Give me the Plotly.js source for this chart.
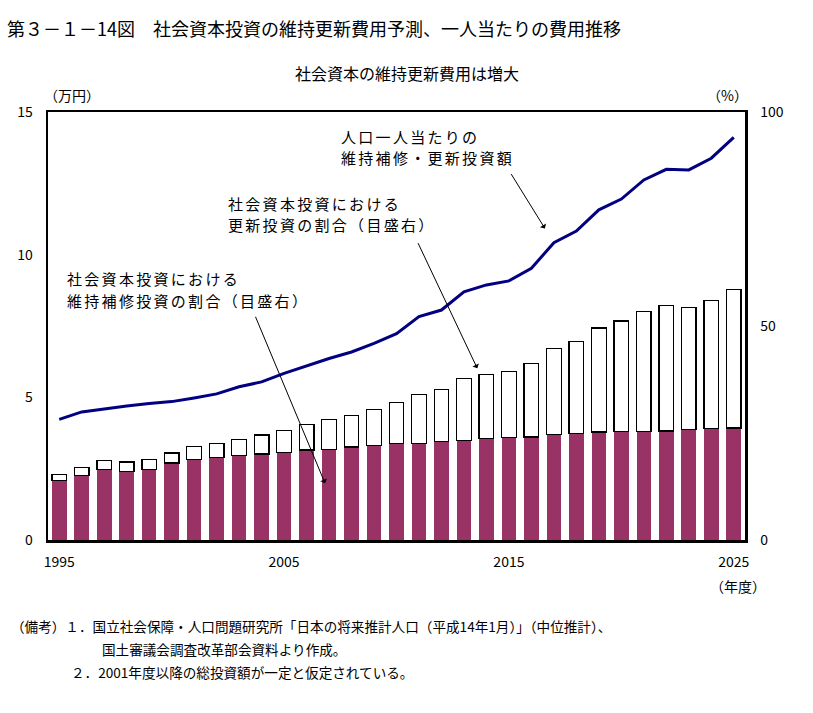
<!DOCTYPE html>
<html>
<head>
<meta charset="utf-8">
<script src="https://cdn.plot.ly/plotly-3.0.1.min.js"></script>
<style>html,body{margin:0;padding:0;background:#fff;}#chart{width:813px;height:713px;}</style>
</head>
<body>
<div id="chart"></div>
<script>
// ---- data ----
const years = [1995,1996,1997,1998,1999,2000,2001,2002,2003,2004,2005,2006,2007,2008,2009,2010,
               2011,2012,2013,2014,2015,2016,2017,2018,2019,2020,2021,2022,2023,2024,2025];
// 維持補修投資の割合 (%) 右目盛
const maintShare = [13.9,15.0,16.5,16.0,16.5,18.0,18.8,19.3,19.8,20.1,20.5,21.0,21.2,21.7,22.0,22.5,
                    22.6,23.0,23.2,23.7,23.9,24.1,24.6,24.9,25.2,25.3,25.3,25.5,25.8,26.0,26.2];
// 更新投資の割合 (%) 右目盛
const renewShare = [1.4,2.0,2.1,2.2,2.3,2.3,3.1,3.3,3.7,4.4,5.1,6.0,7.0,7.4,8.5,9.7,
                    11.4,12.2,14.6,15.0,15.5,17.2,20.2,21.5,24.3,25.9,28.1,29.3,28.6,30.0,32.4];
// 人口一人当たりの維持補修・更新投資額 (万円) 左目盛
const perCapita = [4.23,4.49,4.59,4.70,4.78,4.85,4.98,5.12,5.37,5.54,5.84,6.10,6.36,6.59,6.89,7.23,
                   7.83,8.06,8.70,8.94,9.08,9.52,10.42,10.83,11.57,11.95,12.62,12.99,12.97,13.38,14.11];
const xTicks = [1995,2005,2015,2025];
const leftTicks = [0,5,10,15];
const rightTicks = [0,50,100];
const callouts = ['人口一人当たりの', '維持補修・更新投資額',
                  '社会資本投資における', '更新投資の割合（目盛右）',
                  '社会資本投資における', '維持補修投資の割合（目盛右）'];

// ---- layout helpers (pixel -> paper) ----
const L = 48, R = 745, T = 112, B = 540;
const px = x => (x - L) / (R - L);
const py = y => (B - y) / (B - T);
const FONT = '"Noto Sans CJK JP", "Noto Sans", sans-serif';

function txt(text, x, y, size, xanchor) {
  return {text: text, xref: 'paper', yref: 'paper', x: px(x), y: py(y),
          xanchor: xanchor || 'left', yanchor: 'middle', align: 'left', showarrow: false,
          borderpad: 0, font: {family: FONT, size: size, color: '#000'}};
}
function arrow(tx, ty, hx, hy) {
  return {text: '', xref: 'x', yref: 'y', axref: 'x', ayref: 'y',
          x: hx, y: hy, ax: tx, ay: ty, showarrow: true, borderpad: 0,
          arrowhead: 1, arrowsize: 1.2, arrowwidth: 1, arrowcolor: '#000'};
}

const traces = [
  {type: 'bar', x: years, y: maintShare, yaxis: 'y2', name: '維持補修投資の割合',
   marker: {color: '#993366', line: {width: 0}}, hoverinfo: 'skip'},
  {type: 'bar', x: years, y: renewShare, yaxis: 'y2', name: '更新投資の割合',
   marker: {color: '#ffffff', line: {color: '#000', width: 1.3}}, hoverinfo: 'skip'},
  {type: 'scatter', mode: 'lines', x: years, y: perCapita, yaxis: 'y', name: '一人当たり',
   line: {color: '#000080', width: 3}, hoverinfo: 'skip'}
];

const layout = {
  width: 813, height: 713,
  margin: {l: L, r: 813 - R, t: T, b: 713 - B},
  paper_bgcolor: '#fff', plot_bgcolor: '#fff',
  showlegend: false,
  barmode: 'stack', bargap: 0.35,
  font: {family: FONT, size: 14, color: '#000'},
  xaxis: {range: [1994.5, 2025.5], tickvals: xTicks, ticktext: xTicks.map(String),
          showgrid: false, zeroline: false, showline: true, mirror: true,
          linecolor: '#000', linewidth: 2.5, ticks: '', ticklabelstandoff: 8,
          tickfont: {family: FONT, size: 14, color: '#000'}, fixedrange: true},
  yaxis: {range: [0, 15], tickvals: leftTicks, ticktext: leftTicks.map(String),
          showgrid: false, zeroline: false, showline: true, mirror: true,
          linecolor: '#000', linewidth: 2.5, ticks: '', ticklabelstandoff: 10,
          tickfont: {family: FONT, size: 14, color: '#000'}, fixedrange: true},
  yaxis2: {range: [0, 100], tickvals: rightTicks, ticktext: rightTicks.map(String),
           overlaying: 'y', side: 'right', showgrid: false, zeroline: false,
           showline: true, linecolor: '#000', linewidth: 2.5, ticks: '', ticklabelstandoff: 10,
           tickfont: {family: FONT, size: 14, color: '#000'}, fixedrange: true},
  annotations: [
    txt('第３－１－14図　社会資本投資の維持更新費用予測、一人当たりの費用推移', 6, 28, 18),
    txt('社会資本の維持更新費用は増大', 407, 73, 16, 'center'),
    txt('（万円）', 72, 95, 14, 'center'),
    txt('（%）', 727, 95, 14, 'center'),
    txt('（年度）', 738, 586, 14, 'center'),
    txt(callouts[0], 340, 136, 15),
    txt(callouts[1], 340, 158, 15),
    txt(callouts[2], 227, 203, 15),
    txt(callouts[3], 227, 225, 15),
    txt(callouts[4], 66, 278, 15),
    txt(callouts[5], 66, 300, 15),
    txt('（備考）１．国立社会保障・人口問題研究所「日本の将来推計人口（平成14年1月）」（中位推計）、', 10, 626, 13.6),
    txt('国土審議会調査改革部会資料より作成。', 101, 649, 13.6),
    txt('２．2001年度以降の総投資額が一定と仮定されている。', 70, 672, 13.6),
    arrow(2015.09, 12.84, 2016.60, 10.92),
    arrow(2010.95, 10.42, 2013.59, 6.02),
    arrow(2003.72, 7.84, 2006.82, 1.99)
  ]
};

Plotly.newPlot('chart', traces, layout, {displayModeBar: false, staticPlot: true}).then(() => {
  // widen the callout lettering like the original's spaced glyphs
  document.querySelectorAll('.annotation-text').forEach(el => {
    if (callouts.indexOf(el.textContent) >= 0) el.style.letterSpacing = '2.3px';
  });
});
</script>
</body>
</html>
